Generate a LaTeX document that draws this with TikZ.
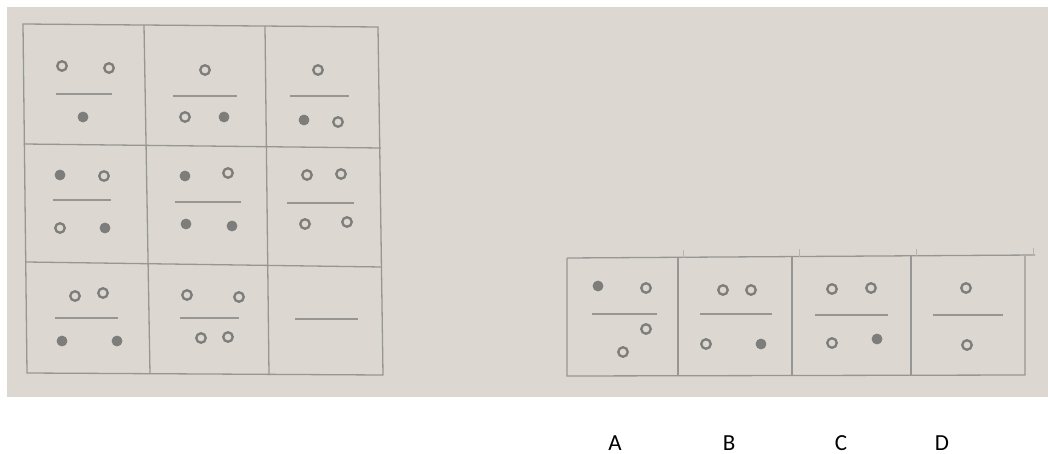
\documentclass[tikz,border=0pt]{standalone}
\usepackage{fontspec}
\setmainfont{Carlito}
\definecolor{paper}{RGB}{220,216,209}
\definecolor{pencil}{RGB}{150,150,148}
\definecolor{dotc}{RGB}{125,125,123}
\tikzset{
  gridline/.style={draw=pencil, line width=1.3pt},
  bar/.style={draw=pencil, line width=1.8pt},
  oc/.style={circle, draw=dotc, line width=2.3pt, minimum size=9.5pt, inner sep=0pt},
  fc/.style={circle, fill=dotc, draw=dotc, line width=0.8pt, minimum size=10pt, inner sep=0pt},
  tick/.style={draw=pencil!70, line width=0.8pt},
  lab/.style={font=\fontsize{23}{28}\selectfont, anchor=base, inner sep=0pt}
}
\begin{document}
\begin{tikzpicture}[x=1pt,y=-1pt]
\useasboundingbox (0,0) rectangle (1048,454);
\fill[white] (0,0) rectangle (1048,454);
\fill[paper] (7,7) rectangle (1048,397);
% ---- 3x3 grid
\draw[gridline] (23,24) -- (378,27) -- (383,375) -- (27,373) -- cycle;
\draw[gridline] (144,25) -- (150,374);
\draw[gridline] (265,26) -- (269,375);
\draw[gridline] (24,144) -- (381,148);
\draw[gridline] (26,262) -- (382,267);
% cell 1,1
\node[oc] (a1) at (62,66) {};
\node[oc] (a2) at (109,68) {};
\draw[bar] (56,94) -- (112,94);
\node[fc] (a3) at (83,117) {};
% cell 1,2
\node[oc] (b1) at (205,70) {};
\draw[bar] (173,96) -- (237,96);
\node[oc] (b2) at (185,117) {};
\node[fc] (b3) at (224,117) {};
% cell 1,3
\node[oc] (c1) at (318,70) {};
\draw[bar] (290,96) -- (349,96);
\node[fc] (c2) at (304,120) {};
\node[oc] (c3) at (338,122) {};
% cell 2,1
\node[fc] (d1) at (60,175) {};
\node[oc] (d2) at (104,176) {};
\draw[bar] (53,200) -- (111,200);
\node[oc] (d3) at (60,228) {};
\node[fc] (d4) at (105,228) {};
% cell 2,2
\node[fc] (e1) at (185,176) {};
\node[oc] (e2) at (228,173) {};
\draw[bar] (175,202) -- (241,202);
\node[fc] (e3) at (186,224) {};
\node[fc] (e4) at (232,226) {};
% cell 2,3
\node[oc] (f1) at (307,175) {};
\node[oc] (f2) at (341,174) {};
\draw[bar] (287,203) -- (354,203);
\node[oc] (f3) at (305,224) {};
\node[oc] (f4) at (347,222) {};
% cell 3,1
\node[oc] (g1) at (75,296) {};
\node[oc] (g2) at (103,293) {};
\draw[bar] (55,318) -- (118,318);
\node[fc] (g3) at (62,341) {};
\node[fc] (g4) at (117,341) {};
% cell 3,2
\node[oc] (h1) at (187,295) {};
\node[oc] (h2) at (239,297) {};
\draw[bar] (180,318) -- (239,318);
\node[oc] (h3) at (201,338) {};
\node[oc] (h4) at (228,337) {};
% cell 3,3
\draw[bar] (295,319) -- (358,319);
% ---- options strip
\draw[gridline] (567,258) -- (1035,255);
\draw[gridline] (567,258) -- (567,376) -- (1025,375) -- (1025,256);
\draw[gridline] (678,257) -- (678,376);
\draw[gridline] (792,257) -- (792,376);
\draw[gridline] (911,256) -- (911,375);
\draw[tick] (683,250) -- (683,258);
\draw[tick] (799,249) -- (799,257);
\draw[tick] (916,249) -- (916,256);
\draw[tick] (1033,248) -- (1033,256);
% option A
\node[fc] (oa1) at (598,286) {};
\node[oc] (oa2) at (646,288) {};
\draw[bar] (592,314) -- (657,314);
\node[oc] (oa3) at (646,329) {};
\node[oc] (oa4) at (623,352) {};
% option B
\node[oc] (ob1) at (723,290) {};
\node[oc] (ob2) at (751,290) {};
\draw[bar] (700,314) -- (772,314);
\node[oc] (ob3) at (706,344) {};
\node[fc] (ob4) at (761,344) {};
% option C
\node[oc] (oc1) at (832,289) {};
\node[oc] (oc2) at (871,288) {};
\draw[bar] (815,315) -- (888,315);
\node[oc] (oc3) at (832,343) {};
\node[fc] (oc4) at (877,339) {};
% option D
\node[oc] (od1) at (966,288) {};
\draw[bar] (933,315) -- (1003,315);
\node[oc] (od2) at (967,345) {};
% labels
\node[lab] (la) at (615,450) {A};
\node[lab] (lb) at (729,450) {B};
\node[lab] (lc) at (841,450) {C};
\node[lab] (ld) at (942,450) {D};
\end{tikzpicture}
\end{document}
